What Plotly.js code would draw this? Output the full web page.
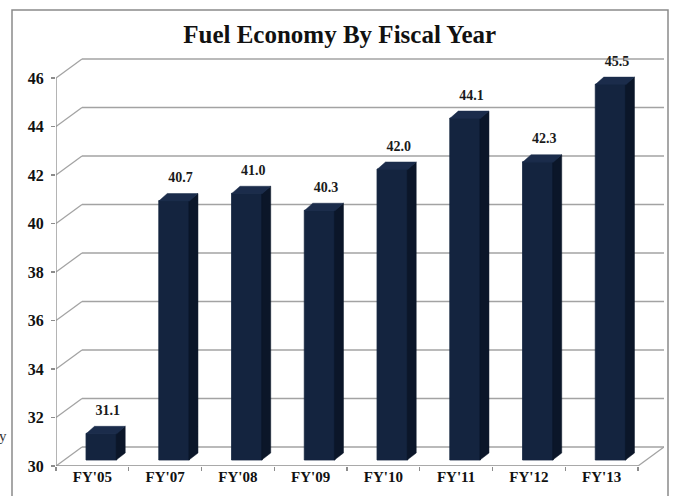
<!DOCTYPE html>
<html>
<head>
<meta charset="utf-8">
<script src="https://cdn.plot.ly/plotly-3.0.1.min.js"></script>
<style>
html,body{margin:0;padding:0;background:#fff;}
#chart{width:674px;height:496px;}
</style>
</head>
<body>
<div id="chart"></div>
<script>
// ---- data ----
var categories = ["FY'05","FY'07","FY'08","FY'09","FY'10","FY'11","FY'12","FY'13"];
var mpg = [31.1, 40.7, 41.0, 40.3, 42.0, 44.1, 42.3, 45.5];
var yTicks = [30, 32, 34, 36, 38, 40, 42, 44, 46];

// ---- geometry (pixel-based 3D look) ----
var W = 674, H = 496;
var mL = 56, mR = 10, mT = 56, mB = 30;
var pxCat = 72.75, pxUnit = 24.25;
var yMin = 30;
var xMin = -0.5, xMax = xMin + (W - mL - mR) / pxCat;
var yMax = yMin + (H - mT - mB) / pxUnit;
var DX = 26 / pxCat, DY = 19 / pxUnit;          // back wall offset
var BX = 9 / pxCat, BY = 6 / pxUnit;            // bar front-face offset
var BW = 30.7 / pxCat;                          // bar width
var dX = 8.5 / pxCat, dY = 7 / pxUnit;          // bar depth
var nCat = categories.length;
var lastX = nCat - 0.5;

var gridCol = '#a3a3a3', axCol = '#8c8c8c';
var serif = 'Liberation Serif, Times New Roman, serif';

var shapes = [];
yTicks.forEach(function(v){
  shapes.push({type:'line', xref:'x', yref:'y', layer:'below',
    x0:xMin+DX, x1:lastX+DX, y0:v+DY, y1:v+DY, line:{color:gridCol, width:1.3}});
  shapes.push({type:'line', xref:'x', yref:'y', layer:'below',
    x0:xMin, x1:xMin+DX, y0:v, y1:v+DY, line:{color:gridCol, width:1.3}});
});
shapes.push({type:'line', xref:'x', yref:'y', layer:'below', x0:xMin, x1:lastX, y0:yMin, y1:yMin, line:{color:axCol, width:1.3}});
shapes.push({type:'line', xref:'x', yref:'y', layer:'below', x0:lastX, x1:lastX+DX, y0:yMin, y1:yMin+DY, line:{color:gridCol, width:1.3}});
shapes.push({type:'line', xref:'x', yref:'y', layer:'below', x0:xMin, x1:xMin, y0:yMin, y1:yTicks[yTicks.length-1], line:{color:axCol, width:1.3}});

function px2paperX(p){ return (p - mL) / (W - mL - mR); }
function px2paperY(p){ return (H - mB - p) / (H - mT - mB); }
shapes.push({type:'rect', xref:'paper', yref:'paper', layer:'below',
  x0:px2paperX(12), x1:px2paperX(668), y0:px2paperY(10), y1:px2paperY(520),
  line:{color:'#8a8a8a', width:1.5}, fillcolor:'rgba(0,0,0,0)'});

// ---- traces ----
var xs = categories.map(function(c,i){ return i + BX; });
var frontTrace = {
  type:'bar', x:xs, y:mpg.map(function(v){return v - yMin;}),
  base:mpg.map(function(){return yMin + BY;}), width:BW,
  marker:{color:'#14243f', line:{width:0.8, color:'#14243f'}}, hoverinfo:'skip', showlegend:false
};
var ov = 0.6 / pxCat;
var sx = [], sy = [], tx = [], ty = [];
mpg.forEach(function(v,i){
  var xl = i + BX - BW/2, xr = i + BX + BW/2, b = yMin + BY, t = v + BY;
  sx.push(xr-ov, xr+dX, xr+dX, xr-ov, xr-ov, null);
  sy.push(b, b+dY, t+dY, t, b, null);
  tx.push(xl, xr, xr+dX, xl+dX, xl, null);
  ty.push(t-0.02, t-0.02, t+dY, t+dY, t-0.02, null);
});
var sideTrace = {type:'scatter', mode:'lines', x:sx, y:sy, fill:'toself', fillcolor:'#0b1629',
  line:{width:0.5, color:'#0b1629'}, hoverinfo:'skip', showlegend:false};
var topTrace = {type:'scatter', mode:'lines', x:tx, y:ty, fill:'toself', fillcolor:'#1b2c4b',
  line:{width:0.5, color:'#1b2c4b'}, hoverinfo:'skip', showlegend:false};
var labelTrace = {type:'scatter', mode:'text',
  x:mpg.map(function(v,i){return i + 0.21;}),
  y:mpg.map(function(v){return v + 1.15;}),
  text:mpg.map(function(v){return '<b>' + v.toFixed(1) + '</b>';}),
  textposition:'middle center', cliponaxis:false,
  textfont:{family:serif, size:14, color:'#1a1a1a'},
  hoverinfo:'skip', showlegend:false};

var layout = {
  width:W, height:H, paper_bgcolor:'#fff', plot_bgcolor:'rgba(0,0,0,0)',
  font:{family:serif},
  margin:{l:mL, r:mR, t:mT, b:mB, pad:0},
  showlegend:false,
  title:{text:'<b>Fuel Economy By Fiscal Year</b>', x:0.504, xref:'container', xanchor:'center',
    y:1 - 34/H, yref:'container', yanchor:'middle',
    font:{family:serif, size:25, color:'#111'}},
  xaxis:{type:'linear', range:[xMin, xMax], showgrid:false, zeroline:false, showline:false,
    tickmode:'array', tickvals:categories.map(function(c,i){return i;}),
    ticktext:categories.map(function(c){return '<b>' + c + '</b>';}),
    ticks:'', tickfont:{family:serif, size:15, color:'#111'},
    minor:{tickmode:'array', tickvals:categories.map(function(c,i){return i-0.5;}).concat([lastX]),
      ticks:'outside', ticklen:4, tickcolor:axCol, tickwidth:1.2, showgrid:false},
    fixedrange:true},
  yaxis:{range:[yMin, yMax], showgrid:false, zeroline:false, showline:false,
    tickmode:'array', tickvals:yTicks,
    ticktext:yTicks.map(function(v){return '<b>' + v + '</b>';}),
    ticks:'outside', ticklen:4, tickcolor:axCol, tickwidth:1.2,
    ticklabelstandoff:4,
    tickfont:{family:serif, size:16, color:'#111'}, fixedrange:true},
  bargap:0,
  shapes:shapes,
  annotations:[{text:'y', xref:'paper', yref:'paper', x:px2paperX(3), y:px2paperY(436),
    xanchor:'center', yanchor:'middle', showarrow:false,
    font:{family:serif, size:15, color:'#333'}}]
};

Plotly.newPlot('chart', [frontTrace, sideTrace, topTrace, labelTrace], layout, {staticPlot:true, displayModeBar:false});
</script>
</body>
</html>
